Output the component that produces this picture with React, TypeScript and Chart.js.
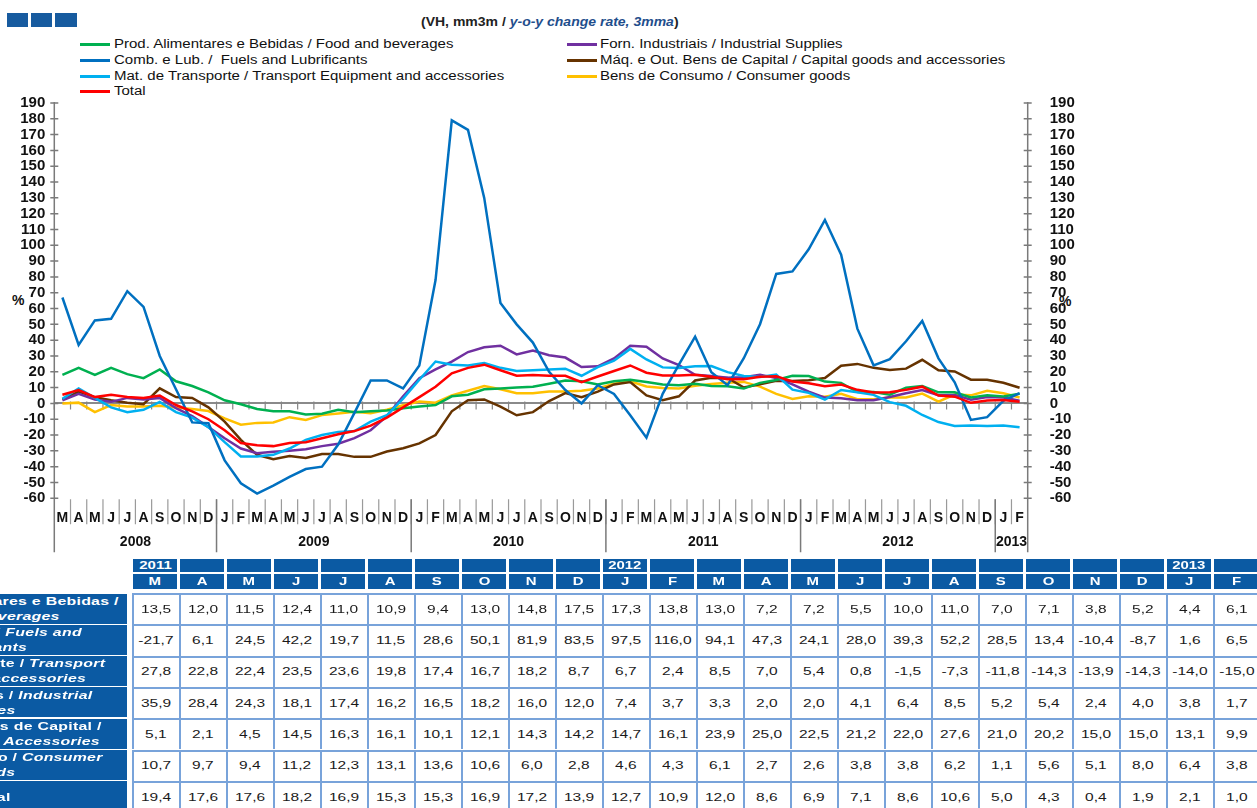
import React, { useEffect, useRef } from "react";
import { Chart, registerables } from "chart.js";

Chart.register(...registerables);

const FONT = '"Liberation Sans", Arial, Helvetica, sans-serif';

// ---------- data ----------
const categories = [
  "M", "A", "M", "J", "J", "A", "S", "O", "N", "D",
  "J", "F", "M", "A", "M", "J", "J", "A", "S", "O", "N", "D",
  "J", "F", "M", "A", "M", "J", "J", "A", "S", "O", "N", "D",
  "J", "F", "M", "A", "M", "J", "J", "A", "S", "O", "N", "D",
  "J", "F", "M", "A", "M", "J", "J", "A", "S", "O", "N", "D",
  "J", "F",
];
const yearLabels = ["2008", "2009", "2010", "2011", "2012", "2013"];
const yearStartIndex = [0, 10, 22, 34, 46, 58];

const foodBeverages = [
  18, 22.5, 18, 22.5, 18.5, 16, 21.5, 14, 11, 7,
  2, -0.5, -3.5, -5, -5, -7, -6.5, -4, -5.5, -5, -4.5, -3,
  -2, -1, 4.5, 5.5, 9, 9.5, 10, 10.5, 12.5, 14.5, 14, 12,
  14, 15, 13.5, 12.0, 11.5, 12.4, 11.0, 10.9, 9.4, 13.0, 14.8, 17.5,
  17.3, 13.8, 13.0, 7.2, 7.2, 5.5, 10.0, 11.0, 7.0, 7.1, 3.8, 5.2,
  4.4, 6.1,
];
const fuelsLubricants = [
  67, 37, 52.5, 53.5, 71, 61, 30, 9, -12, -12.5,
  -36, -50.5, -57, -52, -46.5, -41.5, -40, -26, -6, 14.5, 14.5, 9.5,
  24, 78, 179, 173, 130, 63.5, 50, 38.5, 20, 8.5, 0, 11.5,
  6, -7.5, -21.7, 6.1, 24.5, 42.2, 19.7, 11.5, 28.6, 50.1, 81.9, 83.5,
  97.5, 116.0, 94.1, 47.3, 24.1, 28.0, 39.3, 52.2, 28.5, 13.4, -10.4, -8.7,
  1.6, 6.5,
];
const transportEquipment = [
  3, 9.5, 3.5, -2.5, -5.5, -4, 1, -5.5, -9, -15,
  -24.5, -33.5, -33.5, -32.5, -28.5, -23, -20, -18, -17.5, -11.5, -7.5, 3,
  15, 26.5, 24.5, 24, 25.5, 22.5, 20.5, 21, 21.5, 22, 17.5, 23,
  27, 34.5, 27.8, 22.8, 22.4, 23.5, 23.6, 19.8, 17.4, 16.7, 18.2, 8.7,
  6.7, 2.4, 8.5, 7.0, 5.4, 0.8, -1.5, -7.3, -11.8, -14.3, -13.9, -14.3,
  -14.0, -15.0,
];
const industrialSupplies = [
  2, 6, 2.5, 1, 3.5, 2.5, 3.5, -3, -8, -15,
  -22, -28.5, -31.5, -30.5, -30, -29, -27, -25.5, -22, -17, -8, 4.5,
  16, 21.5, 26.5, 32.5, 35.5, 36.5, 31, 33.5, 30.5, 29, 23, 23.5,
  28.5, 36.5, 35.9, 28.4, 24.3, 18.1, 17.4, 16.2, 16.5, 18.2, 16.0, 12.0,
  7.4, 3.7, 3.3, 2.0, 2.0, 4.1, 6.4, 8.5, 5.2, 5.4, 2.4, 4.0,
  3.8, 1.7,
];
const capitalGoods = [
  2.5, 7.5, 4, 2, 0.5, -0.5, 9.5, 4, 3.5, -2.5,
  -11.5, -23, -32.5, -35.3, -33.2, -34.5, -32, -32, -33.8, -33.8, -30.4, -28.3,
  -25.3, -20, -5, 2, 2.5, -2, -7.5, -5.5, 1.5, 6.5, 4, 7.5,
  12, 13.5, 5.1, 2.1, 4.5, 14.5, 16.3, 16.1, 10.1, 12.1, 14.3, 14.2,
  14.7, 16.1, 23.9, 25.0, 22.5, 21.2, 22.0, 27.6, 21.0, 20.2, 15.0, 15.0,
  13.1, 9.9,
];
const consumerGoods = [
  0, 0.5, -5.5, -1, -2, -2, -1.5, -2.5, -3.5, -4.8,
  -9.5, -13.5, -12.3, -12, -8.7, -10.5, -7.4, -6.3, -5.3, -6.2, -4, -1.2,
  1.2, 0.5, 5, 8, 11, 9, 6.5, 6.5, 7.5, 7.5, 8, 9.5,
  12.5, 14, 10.7, 9.7, 9.4, 11.2, 12.3, 13.1, 13.6, 10.6, 6.0, 2.8,
  4.6, 4.3, 6.1, 2.7, 2.6, 3.8, 3.8, 6.2, 1.1, 5.6, 5.1, 8.0,
  6.4, 3.8,
];
const totalImports = [
  5.5, 8.5, 4, 5.5, 4, 3.5, 5, -1, -5, -10,
  -17, -25, -26.5, -27, -25, -24.5, -22, -19.5, -17.5, -14, -9, -2.5,
  4, 10.5, 19, 22.5, 24.5, 21, 17.5, 18, 17.5, 17.5, 13.5, 17,
  20.5, 24, 19.4, 17.6, 17.6, 18.2, 16.9, 15.3, 15.3, 16.9, 17.2, 13.9,
  12.7, 10.9, 12.0, 8.6, 6.9, 7.1, 8.6, 10.6, 5.0, 4.3, 0.4, 1.9,
  2.1, 1.0,
];

const tableStartIndex = 36;
const tableYearCols = [0, 10, 22];
const tableYearText = ["2011", "2012", "2013"];

// ---------- styles ----------
const C_FOOD = "#00b050";
const C_FUEL = "#0070c0";
const C_TRANS = "#00b0f0";
const C_IND = "#7030a0";
const C_CAP = "#663300";
const C_CONS = "#ffc000";
const C_TOTAL = "#ff0000";
const BLUE = "#0b5aa3";
const GRID_BLUE = "#78a3da";

const series = [
  { label: "Prod. Alimentares e Bebidas / Food and beverages", color: C_FOOD, data: foodBeverages, order: 4 },
  { label: "Comb. e Lub. /  Fuels and Lubrificants", color: C_FUEL, data: fuelsLubricants, order: 2 },
  { label: "Mat. de Transporte / Transport Equipment and accessories", color: C_TRANS, data: transportEquipment, order: 3 },
  { label: "Forn. Industriais / Industrial Supplies", color: C_IND, data: industrialSupplies, order: 5 },
  { label: "Máq. e Out. Bens de Capital / Capital goods and accessories", color: C_CAP, data: capitalGoods, order: 6 },
  { label: "Bens de Consumo / Consumer goods", color: C_CONS, data: consumerGoods, order: 7 },
  { label: "Total", color: C_TOTAL, data: totalImports, order: 1 },
];

// legend placement: [series index, column, row]
const legendLayout = [
  [0, 0, 0], [3, 1, 0],
  [1, 0, 1], [4, 1, 1],
  [2, 0, 2], [5, 1, 2],
  [6, 0, 3],
];
const legendRowY = [44.5, 60, 76, 91.3];
const legendColX = [[80, 113.6], [567, 599.5]];

// table row headers: lines of [upright bold, italic bold]
const rowHeaders = [
  [["Prod. Alimentares e Bebidas /", ""], ["", "Food and Beverages"]],
  [["Comb. e Lub. / ", "Fuels and"], ["", "Lubrificants"]],
  [["Mat. de Transporte / ", "Transport"], ["", "Equipment and accessories"]],
  [["Forn. Industriais / ", "Industrial"], ["", "Supplies"]],
  [["Máq. e Out. Bens de Capital /", ""], ["", "Capital Goods and Accessories"]],
  [["Bens de Consumo / ", "Consumer"], ["", "Goods"]],
  [["Total", ""]],
];
const rowHeaderEnds = [[118.3, 59.3], [81.7, 27.7], [105, 86], [92.7, 16], [101.7, 100], [102.7, 15], [11]];
const tableRowSeries = [0, 1, 2, 3, 4, 5, 6];

const fmt = (v: number) => v.toFixed(1).replace(".", ",");

const axisDecor = {
  id: "axisDecor",
  beforeDatasetsDraw(chart: any) {
    const { ctx, chartArea: ca, scales } = chart;
    const xs = scales.x;
    const ys = scales.y;
    const n = categories.length;
    const boundary = (i: number) => xs.getPixelForValue(i - 0.5);
    const y0 = ys.getPixelForValue(0);
    const bottom = ca.bottom;
    ctx.save();
    // ticks on zero line
    ctx.strokeStyle = "#858585";
    ctx.lineWidth = 1.2;
    ctx.beginPath();
    for (let i = 0; i <= n; i++) {
      const px = boundary(i);
      ctx.moveTo(px, y0 - 2);
      ctx.lineTo(px, y0 + 6);
    }
    ctx.stroke();
    // month separators
    ctx.strokeStyle = "#9a9a9a";
    ctx.lineWidth = 1.2;
    ctx.beginPath();
    for (let i = 1; i < n; i++) {
      const px = boundary(i);
      ctx.moveTo(px, bottom + 1);
      ctx.lineTo(px, bottom + 26);
    }
    ctx.stroke();
    // year separators and axis lines
    ctx.strokeStyle = "#7a7a7a";
    ctx.lineWidth = 1.5;
    ctx.beginPath();
    yearStartIndex.forEach((s) => {
      if (s === 0) return;
      const px = boundary(s);
      ctx.moveTo(px, bottom + 1);
      ctx.lineTo(px, bottom + 54);
    });
    ctx.moveTo(ca.left, ca.top - 1);
    ctx.lineTo(ca.left, bottom + 54);
    ctx.moveTo(ca.right, ca.top - 1);
    ctx.lineTo(ca.right, bottom + 54);
    ys.ticks.forEach((t: any) => {
      const py = ys.getPixelForValue(t.value);
      ctx.moveTo(ca.left - 4, py);
      ctx.lineTo(ca.left + 4, py);
      ctx.moveTo(ca.right - 4, py);
      ctx.lineTo(ca.right + 4, py);
    });
    ctx.stroke();
    // year labels
    ctx.fillStyle = "#111";
    ctx.font = `bold 14px ${FONT}`;
    ctx.textAlign = "center";
    ctx.textBaseline = "middle";
    yearLabels.forEach((lab, k) => {
      const s = yearStartIndex[k];
      const e = k + 1 < yearStartIndex.length ? yearStartIndex[k + 1] : n;
      const cx = (boundary(s) + boundary(e)) / 2;
      ctx.fillText(lab, cx, bottom + 43.5);
    });
    ctx.restore();
  },
};

const Stretch = ({ s, origin = "center", children, style }: any) => (
  <span
    style={{
      display: "inline-block",
      transform: `scaleX(${s})`,
      transformOrigin: origin,
      whiteSpace: "pre",
      ...style,
    }}
  >
    {children}
  </span>
);

const CANVAS_TOP = 78.3;
const CANVAS_H = 482;

export default function App() {
  const canvasRef = useRef<HTMLCanvasElement | null>(null);

  useEffect(() => {
    if (!canvasRef.current) return;
    const tickFont = { family: FONT, size: 15, weight: "bold" as const };
    const chart = new Chart(canvasRef.current, {
      type: "line",
      data: {
        labels: categories,
        datasets: series.map((s) => ({
          label: s.label,
          data: s.data,
          borderColor: s.color,
          backgroundColor: s.color,
          borderWidth: 2.5,
          pointRadius: 0,
          pointHoverRadius: 0,
          tension: 0,
          fill: false,
          order: s.order,
          yAxisID: "y",
        })),
      },
      options: {
        animation: false,
        responsive: false,
        maintainAspectRatio: false,
        layout: { padding: { top: 25, left: 0, right: 0, bottom: 0 } },
        plugins: { legend: { display: false }, tooltip: { enabled: false } },
        scales: {
          x: {
            type: "category",
            offset: true,
            grid: { display: false },
            border: { display: false },
            ticks: {
              autoSkip: false,
              maxRotation: 0,
              minRotation: 0,
              padding: 3,
              color: "#111",
              font: { family: FONT, size: 14, weight: "bold" },
            },
            afterFit: (s: any) => {
              s.height = 61.7;
            },
          },
          y: {
            position: "left",
            min: -60,
            max: 190,
            ticks: { stepSize: 10, autoSkip: false, padding: 9, color: "#111", font: tickFont },
            grid: {
              drawTicks: false,
              color: (c: any) => (c.tick && c.tick.value === 0 ? "#8a8a8a" : "rgba(0,0,0,0)"),
              lineWidth: (c: any) => (c.tick && c.tick.value === 0 ? 2 : 0),
            },
            border: { display: false },
            afterFit: (s: any) => {
              s.width = 54.3;
            },
          },
          y2: {
            position: "right",
            display: true,
            min: -60,
            max: 190,
            ticks: { stepSize: 10, autoSkip: false, padding: 14, color: "#111", font: tickFont },
            grid: { display: false },
            border: { display: false },
            afterFit: (s: any) => {
              s.width = 229.3;
            },
          },
        },
      } as any,
      plugins: [axisDecor],
    });
    return () => chart.destroy();
  }, []);

  const colPitch = 47;
  const col0 = 132.7;
  const dataTop = 593;
  const rowH = 31.3;
  const tableMonths = categories.slice(tableStartIndex);

  return (
    <div
      style={{
        position: "fixed",
        left: 0,
        top: 0,
        width: 1257,
        height: 808,
        overflow: "hidden",
        background: "#fff",
        fontFamily: FONT,
      }}
    >
      {/* top-left blue squares */}
      {[6.8, 31.1, 55.4].map((x, i) => (
        <div key={i} style={{ position: "absolute", left: x, top: 12.7, width: 21.3, height: 14, background: "#175b9f" }} />
      ))}

      {/* subtitle */}
      <div style={{ position: "absolute", left: 420.6, top: 15, height: 15, lineHeight: "15px", fontSize: 12.5, fontWeight: "bold", color: "#222" }}>
        <Stretch s={1.12} origin="left center">
          {"(VH, mm3m / "}
          <span style={{ fontStyle: "italic", color: "#1f4e8c" }}>y-o-y change rate, 3mma</span>
          {")"}
        </Stretch>
      </div>

      {/* legend */}
      {legendLayout.map(([si, col, row]) => {
        const s = series[si];
        const cy = legendRowY[row];
        const [sx, tx] = legendColX[col];
        return (
          <React.Fragment key={si}>
            <div style={{ position: "absolute", left: sx, top: cy - 1.5, width: 29.5, height: 3, background: s.color }} />
            <div style={{ position: "absolute", left: tx, top: cy - 7.5, height: 15, lineHeight: "15px", fontSize: 12, color: "#111" }}>
              <Stretch s={1.25} origin="left center">{s.label}</Stretch>
            </div>
          </React.Fragment>
        );
      })}

      {/* % labels */}
      <div style={{ position: "absolute", left: 12, top: 292, fontSize: 14, fontWeight: "bold", lineHeight: "16px", color: "#111" }}>%</div>
      <div style={{ position: "absolute", left: 1059, top: 293, fontSize: 14, fontWeight: "bold", lineHeight: "16px", color: "#111" }}>%</div>

      {/* chart */}
      <canvas ref={canvasRef} width={1257} height={CANVAS_H} style={{ position: "absolute", left: 0, top: CANVAS_TOP }} />

      {/* table header */}
      {tableMonths.map((m, k) => {
        const yi = tableYearCols.indexOf(k);
        return (
          <React.Fragment key={k}>
            <div
              style={{
                position: "absolute", left: col0 + colPitch * k, top: 558.7, width: 44.7, height: 13.3,
                background: BLUE, color: "#fff", fontWeight: "bold", fontSize: 11.5,
                display: "flex", alignItems: "center", justifyContent: "center",
              }}
            >
              {yi >= 0 ? <Stretch s={1.3}>{tableYearText[yi]}</Stretch> : null}
            </div>
            <div
              style={{
                position: "absolute", left: col0 + colPitch * k, top: 574.3, width: 44.7, height: 14.4,
                background: BLUE, color: "#fff", fontWeight: "bold", fontSize: 11.5,
                display: "flex", alignItems: "center", justifyContent: "center",
              }}
            >
              <Stretch s={1.3}>{m}</Stretch>
            </div>
          </React.Fragment>
        );
      })}

      {/* row headers */}
      {rowHeaders.map((lines, r) => {
        const top = dataTop + 0.5 + rowH * r;
        const centers = lines.length === 2 ? [7.2, 22.2] : [16];
        return (
          <div
            key={r}
            style={{ position: "absolute", left: -300, top, width: 426.7, height: 30, background: BLUE, color: "#fff", fontWeight: "bold", fontSize: 11.5 }}
          >
            {lines.map((ln, li) => (
              <div
                key={li}
                style={{
                  position: "absolute",
                  right: 426.7 - 300 - rowHeaderEnds[r][li],
                  top: centers[li] - 7,
                  height: 14,
                  lineHeight: "14px",
                  whiteSpace: "pre",
                }}
              >
                <Stretch s={1.38} origin="right center" style={{ letterSpacing: "0.2px" }}>
                  {ln[0]}
                  {ln[1] ? <span style={{ fontStyle: "italic" }}>{ln[1]}</span> : null}
                </Stretch>
              </div>
            ))}
          </div>
        );
      })}

      {/* data cells */}
      {tableRowSeries.map((si, r) =>
        series[si].data.slice(tableStartIndex).map((v, k) => (
          <div
            key={`${r}-${k}`}
            style={{
              position: "absolute",
              left: 131.5 + colPitch * k,
              top: dataTop + rowH * r,
              width: colPitch + (k === tableMonths.length - 1 ? 2 : 0),
              height: rowH + (r === tableRowSeries.length - 1 ? 2 : 0),
              boxSizing: "border-box",
              borderLeft: `2px solid ${GRID_BLUE}`,
              borderTop: `2px solid ${GRID_BLUE}`,
              borderRight: k === tableMonths.length - 1 ? `2px solid ${GRID_BLUE}` : undefined,
              background: "#fff",
              color: "#1a1a1a",
              fontSize: 11.3,
              display: "flex",
              alignItems: "center",
              justifyContent: "center",
              paddingBottom: 2,
            }}
          >
            <Stretch s={1.37}>{fmt(v)}</Stretch>
          </div>
        ))
      )}
    </div>
  );
}
